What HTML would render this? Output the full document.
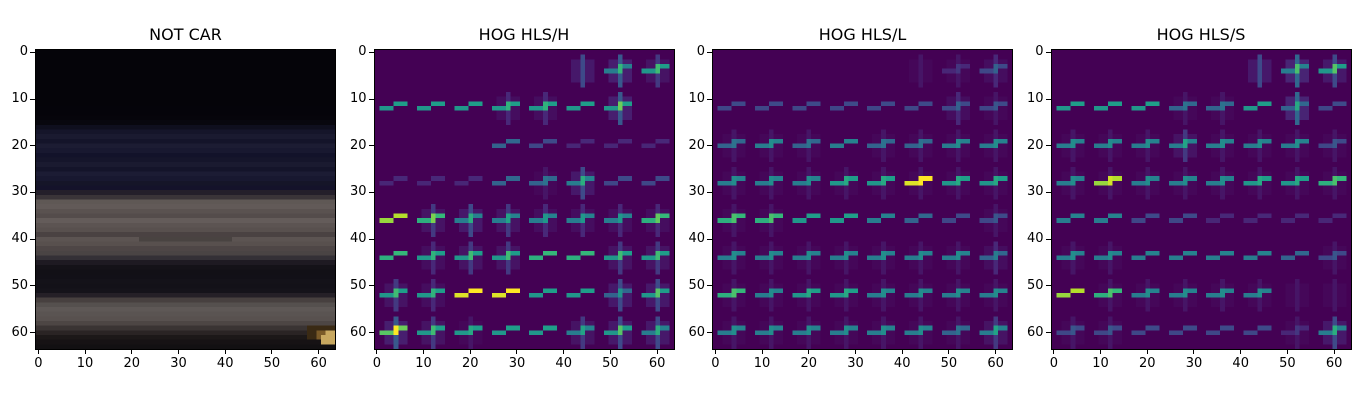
<!DOCTYPE html>
<html><head><meta charset="utf-8">
<style>
body{margin:0;background:#fff;width:1366px;height:400px;overflow:hidden;font-family:"DejaVu Sans","Liberation Sans",sans-serif;}
#root{position:relative;width:1366px;height:400px;}
.panel{position:absolute;top:50px;width:299px;height:299px;}
.panel canvas{position:absolute;left:0;top:0;width:299px;height:299px;image-rendering:pixelated;}
.frame{position:absolute;left:-1px;top:-1px;width:299px;height:299px;border:1px solid #000;}
.title{position:absolute;top:25px;width:299px;text-align:center;font-size:16px;color:#000;}
.tick{position:absolute;background:#000;}
.tl{position:absolute;font-size:13px;color:#000;}
</style></head>
<body><div id="root"></div>
<script>
// Panel titles
const titles = ["NOT CAR","HOG HLS/H","HOG HLS/L","HOG HLS/S"];
const tickVals = [0,10,20,30,40,50,60];
// Source image row colours (64 rows)
const rowColors = [
"#050409","#050409","#050409","#050409","#050409","#050409","#050409","#050409",
"#050409","#050409","#050409","#050409","#05040a","#05040a","#06050b","#08070e",
"#0f0f1e","#15152a","#1a1a30","#14142a","#1c1c33","#181830","#12122a","#15152b",
"#1a1a30","#14142a","#1c1c34","#181830","#151528","#14122a","#241f2a","#3a3438",
"#5f5855","#625a58","#5a5250","#544c4b","#645c5a","#5c5452","#58504e","#4a4242",
"#5c5452","#58504e","#4e4646","#4a4444","#343036","#1e1a22","#141218","#121016",
"#121017","#141219","#131118","#15131a","#252027","#47403f","#55504e","#5e5856",
"#5a5452","#58514f","#4d4644","#3a3433","#2a2424","#1c1818","#161214","#121012"];
// HOG cell strengths (rows of 8 cells, digits 0-9): horizontal edge and vertical edge
const hogH_h = ["00000045","55555550","00032111","11133422","86444446","65556655","55995535","75555454"];
const hogH_v = ["00000453","00022050","00000000","00001400","03432222","02330033","32000044","53100344"];
const hogL_h = ["00000012","22222222","34343344","44455955","66554322","44444443","64554444","44444434"];
const hogL_v = ["00000112","00000021","11101111","11111111","11000001","11111112","11111111","11111113"];
const hogS_h = ["00000045","55533532","44444442","48444556","44221111","44444432","86444400","22222214"];
const hogS_v = ["00000464","00011060","11131111","11111111","00000000","11000001","01111111","11000014"];
const hogData = [null,[hogH_h,hogH_v],[hogL_h,hogL_v],[hogS_h,hogS_v]];

const viridis=[[68,1,84],[72,40,120],[62,74,137],[49,104,142],[38,130,142],[31,158,137],[53,183,121],[109,205,89],[180,222,44],[253,231,37]];
function vir(t){t=Math.max(0,Math.min(1,t));const p=t*9,i=Math.min(8,Math.floor(p)),f=p-i;const a=viridis[i],b=viridis[i+1];
return `rgb(${Math.round(a[0]+(b[0]-a[0])*f)},${Math.round(a[1]+(b[1]-a[1])*f)},${Math.round(a[2]+(b[2]-a[2])*f)})`;}

const root=document.getElementById('root');
const W=299, N=64, lefts=[36,374.5,713,1051.5];
function sx(v){return (v+0.5)*W/N;}

titles.forEach((t,pi)=>{
  const L=lefts[pi];
  const title=document.createElement('div');title.className='title';title.textContent=t;title.style.left=L+'px';
  
  
  root.appendChild(title);
  const p=document.createElement('div');p.className='panel';p.style.left=L+'px';
  
  
  const c=document.createElement('canvas');c.width=N;c.height=N;p.appendChild(c);
  const g=c.getContext('2d');
  if(pi==0){
    rowColors.forEach((col,r)=>{g.fillStyle=col;g.fillRect(0,r,N,1);});
    g.fillStyle='rgba(0,0,0,0.2)';g.fillRect(22,40,20,1);
    g.fillStyle='#3a2a14';g.fillRect(58,59,6,3);
    g.fillStyle='#7a5a28';g.fillRect(60,60,4,2);
    g.fillStyle='#c8a860';g.fillRect(61,61,3,2);g.fillRect(62,60,2,1);
  } else {
    g.fillStyle=vir(0);g.fillRect(0,0,N,N);
    const [hh,vv]=hogData[pi];
    for(let r=0;r<8;r++)for(let cc=0;cc<8;cc++){
      const h=+hh[r][cc]/9, v=+vv[r][cc]/9;
      const x0=cc*8,y0=r*8;
      if(v>0){
        g.fillStyle=vir(v*0.15);
        g.fillRect(x0+2,y0+2,5,5);
        g.fillStyle=vir(v*0.5);g.fillRect(x0+4,y0+1,1,7);
      }
      if(h>0){
        g.fillStyle=vir(h*0.95);g.fillRect(x0+1,y0+4,3,1);
        g.fillStyle=vir(h);g.fillRect(x0+4,y0+3,3,1);
        if(v>0){g.fillStyle=vir(Math.min(1,h+v*0.4));g.fillRect(x0+4,y0+3,1,2);}
      }
    }
  }
  const fr=document.createElement('div');fr.className='frame';p.appendChild(fr);
  root.appendChild(p);
  tickVals.forEach(v=>{
    const tx=document.createElement('div');tx.className='tick';
    tx.style.left=(L+sx(v)-0.5)+'px';tx.style.top='349px';tx.style.width='1px';tx.style.height='5px';
    
    
    root.appendChild(tx);
    const lx=document.createElement('div');lx.className='tl';lx.textContent=v;
    lx.style.left=(L+sx(v)-20)+'px';lx.style.width='40px';lx.style.textAlign='center';lx.style.top='356px';
    
    
    root.appendChild(lx);
    const ty=document.createElement('div');ty.className='tick';
    ty.style.left=(L-6)+'px';ty.style.top=(50+sx(v)-0.5)+'px';ty.style.width='5px';ty.style.height='1px';
    
    
    root.appendChild(ty);
    const ly=document.createElement('div');ly.className='tl';ly.textContent=v;
    ly.style.left=(L-48)+'px';ly.style.width='40px';ly.style.textAlign='right';ly.style.top=(50+sx(v)-8)+'px';
    
    
    root.appendChild(ly);
  });
});
</script></body></html>
